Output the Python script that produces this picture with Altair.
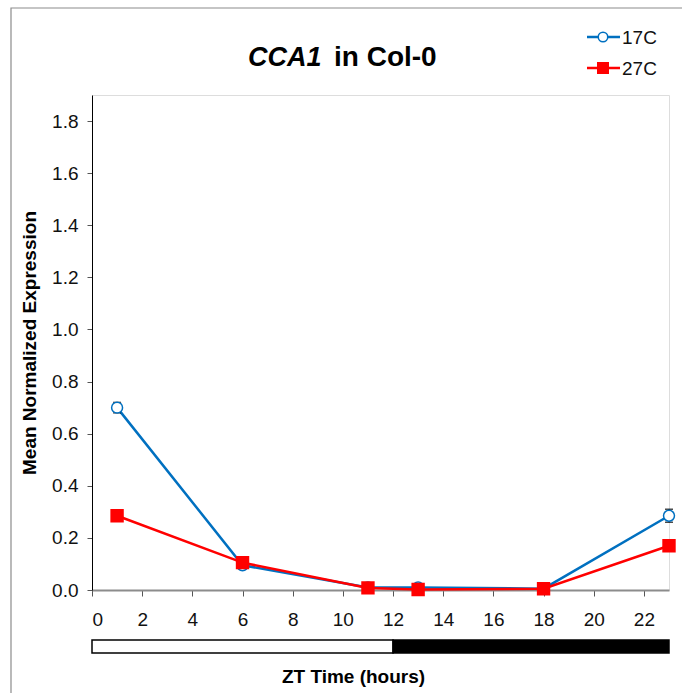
import altair as alt
import pandas as pd

# Sampling times (ZT hours) and mean normalized CCA1 expression
zt_hours = [1, 6, 11, 13, 18, 23]
expr_17c = [0.700, 0.095, 0.010, 0.010, 0.005, 0.285]
err_17c = [0.020, 0.006, 0.003, 0.003, 0.002, 0.025]
expr_27c = [0.285, 0.105, 0.008, 0.002, 0.005, 0.170]
err_27c = [0.010, 0.008, 0.003, 0.002, 0.002, 0.010]

series_names = ["17C", "27C"]
series_colors = ["#0070C0", "#FF0000"]

x_ticks = [0, 2, 4, 6, 8, 10, 12, 14, 16, 18, 20, 22]
y_ticks = [0.0, 0.2, 0.4, 0.6, 0.8, 1.0, 1.2, 1.4, 1.6, 1.8]

# Light / dark period bar under the axis
phase_names = ["light", "dark"]
phase_start = [0, 12]
phase_end = [12, 23]
phase_fill = ["#FFFFFF", "#000000"]

FONT = "Liberation Sans"
W, H = 577, 495
PAD_L, PAD_T = 92, 95

rows = []
for name, vals, errs in [("17C", expr_17c, err_17c), ("27C", expr_27c, err_27c)]:
    for t, v, e in zip(zt_hours, vals, errs):
        rows.append({"zt": t, "expr": v, "lo": v - e, "hi": v + e, "series": name})
df = pd.DataFrame(rows)

phases = pd.DataFrame({"phase": phase_names, "start": phase_start, "end": phase_end})
one = pd.DataFrame({"k": [0]})

x_scale = alt.Scale(domain=[0, 23], nice=False, zero=False)
y_scale = alt.Scale(domain=[0, 1.9], nice=False)
color_scale = alt.Scale(domain=series_names, range=series_colors)

x_enc = alt.X(
    "zt:Q",
    scale=x_scale,
    axis=alt.Axis(
        values=x_ticks, title="ZT Time (hours)", grid=False,
        domainColor="#8c8c8c", domainWidth=2, tickColor="#555555", tickSize=6,
        labelFontSize=19, labelPadding=14, labelColor="#111111", labelFont=FONT,
        titleFontSize=19, titleFontWeight="bold", titleFont=FONT, titleColor="#000000",
        titlePadding=38, titleX=261, titleAlign="center",
    ),
)
y_enc = alt.Y(
    "expr:Q",
    scale=y_scale,
    axis=alt.Axis(
        values=y_ticks, format=".1f", title="Mean Normalized Expression", grid=False,
        domainColor="#000000", domainWidth=1, tickColor="#555555", tickSize=5,
        labelFontSize=19, labelPadding=9, labelColor="#111111", labelFont=FONT,
        titleFontSize=19, titleFontWeight="bold", titleFont=FONT, titleColor="#000000",
        titlePadding=12,
    ),
)

base = alt.Chart(df)

# Outer frame
frame = alt.Chart(one).mark_rect(fill=None, stroke="#8c8c8c", strokeWidth=1.2, clip=False).encode(
    x=alt.value(11 - PAD_L), x2=alt.value(W + 40),
    y=alt.value(8 - PAD_T), y2=alt.value(H + 140),
)

# Day/night bar
bar = alt.Chart(phases).mark_rect(stroke="#000000", strokeWidth=1.5, clip=False).encode(
    x=alt.X("start:Q", scale=x_scale),
    x2="end:Q",
    y=alt.value(50 + H), y2=alt.value(63 + H),
    fill=alt.Fill("phase:N", scale=alt.Scale(domain=phase_names, range=phase_fill), legend=None),
)

lines = base.mark_line(strokeWidth=2.5).encode(
    x=x_enc, y=y_enc,
    color=alt.Color("series:N", scale=color_scale, legend=None),
)

errbars = base.mark_rule(color="#000000", strokeWidth=1.2).encode(
    x="zt:Q", y=alt.Y("lo:Q", scale=y_scale), y2="hi:Q",
)
caps_hi = base.mark_tick(color="#000000", size=8, thickness=1.5, orient="horizontal").encode(
    x="zt:Q", y=alt.Y("hi:Q", scale=y_scale),
)
caps_lo = base.mark_tick(color="#000000", size=8, thickness=1.5, orient="horizontal").encode(
    x="zt:Q", y=alt.Y("lo:Q", scale=y_scale),
)

pts_17 = base.transform_filter(alt.datum.series == "17C").mark_point(
    shape="circle", filled=True, fill="#FFFFFF", stroke=series_colors[0], strokeWidth=1.5, size=120, opacity=1
).encode(x="zt:Q", y="expr:Q")
pts_27 = base.transform_filter(alt.datum.series == "27C").mark_point(
    shape="square", filled=True, fill=series_colors[1], stroke=series_colors[1], size=130, opacity=1
).encode(x="zt:Q", y="expr:Q")

# Title with italic gene name
title_gene = alt.Chart(one).mark_text(
    text="CCA1", font=FONT, fontSize=27, fontWeight="bold", fontStyle="italic",
    align="left", baseline="middle", color="#000000",
).encode(x=alt.value(248 - PAD_L), y=alt.value(58 - PAD_T))
title_rest = alt.Chart(one).mark_text(
    text="in Col-0", font=FONT, fontSize=28, fontWeight="bold",
    align="left", baseline="middle", color="#000000",
).encode(x=alt.value(334 - PAD_L), y=alt.value(58 - PAD_T))

# Legend: line with marker, then label
legend_layers = []
for name, color, ly, shape, fill in [
    ("17C", series_colors[0], 37, "circle", "#FFFFFF"),
    ("27C", series_colors[1], 68, "square", series_colors[1]),
]:
    legend_layers.append(
        alt.Chart(one).mark_rule(color=color, strokeWidth=2.5).encode(
            x=alt.value(587 - PAD_L), x2=alt.value(620 - PAD_L), y=alt.value(ly - PAD_T)
        )
    )
    legend_layers.append(
        alt.Chart(one).mark_point(
            shape=shape, filled=True, fill=fill, stroke=color, strokeWidth=1.5,
            size=90 if shape == "circle" else 110, opacity=1,
        ).encode(x=alt.value(603 - PAD_L), y=alt.value(ly - PAD_T))
    )
    legend_layers.append(
        alt.Chart(one).mark_text(
            text=name, font=FONT, fontSize=19, align="left", baseline="middle", color="#111111",
        ).encode(x=alt.value(622 - PAD_L), y=alt.value(ly + 1 - PAD_T))
    )

chart = alt.layer(
    frame, bar, lines, errbars, caps_hi, caps_lo, pts_17, pts_27,
    title_gene, title_rest, *legend_layers,
).properties(
    width=W, height=H,
    autosize=alt.AutoSizeParams(type="none"),
    padding={"left": PAD_L, "top": PAD_T, "right": 682 - PAD_L - W, "bottom": 693 - PAD_T - H},
    background="#FFFFFF",
).configure_view(stroke=None).configure(font=FONT)

chart.save("out.html", embed_options={"renderer": "svg", "actions": False})
